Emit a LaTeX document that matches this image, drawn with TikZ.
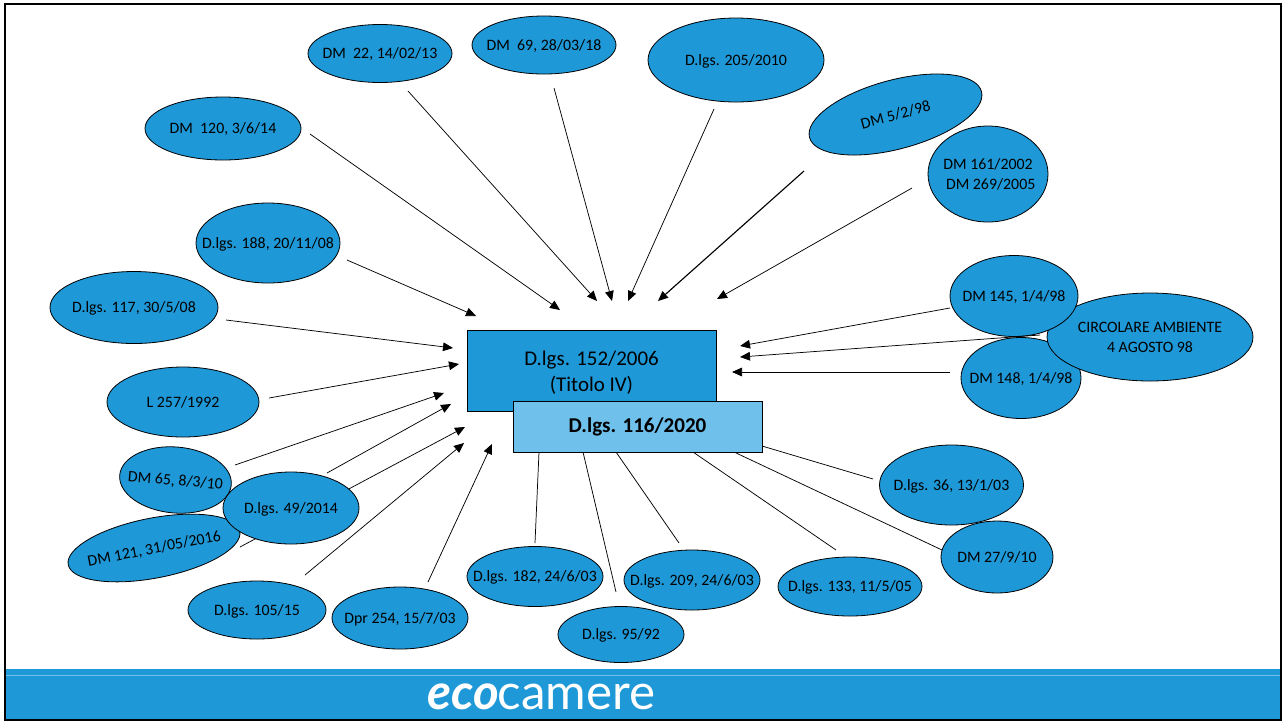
\documentclass[tikz,border=0pt]{standalone}
\usepackage{fontspec}
\setmainfont{Carlito}
\newfontfamily\logofont{Lato}
\usetikzlibrary{shapes.geometric,arrows.meta,backgrounds}
\definecolor{ecoblue}{HTML}{1F98D7}
\definecolor{ecolight}{HTML}{6FC0EB}
\tikzset{
  x=0.75pt,y=-0.75pt,
  el/.style={ellipse,draw=black,fill=ecoblue,line width=0.6pt,inner sep=-14pt,align=center,text=black,font=\fontsize{11.9pt}{15pt}\selectfont},
  box/.style={rectangle,draw=black,line width=0.6pt,inner sep=0pt,align=center,text=black},
  arr/.style={draw=black,line width=0.55pt,-{Triangle[length=7.5pt,width=6.5pt]}},
  lin/.style={draw=black,line width=0.55pt},
}
\newcommand{\el}[7]{\node[el,minimum width=#3*1.5pt,minimum height=#4*1.5pt,rotate=#5] (#6) at (#1,#2) {\raisebox{-1.1pt}[\height][\depth]{\begin{tabular}{@{}c@{}}#7\end{tabular}}};}
\newcommand{\conn}[6]{\coordinate (#1-a) at (#2,#3); \coordinate (#1-b) at (#4,#5); \draw[#6] (#1-a) -- (#1-b);}
\begin{document}
\begin{tikzpicture}
\useasboundingbox (0,0) rectangle (1284,722);
\begin{scope}[on background layer]
\path[fill=white] (0,0) rectangle (1284,722);
\end{scope}
\path[fill=ecoblue] (5,669) rectangle (1281,720);
\draw[ecolight,line width=0.5pt] (5,675.5) -- (1281,675.5);
\draw[black,line width=1.4pt] (5,4) rectangle (1281,720);
\node[font=\logofont\fontsize{37pt}{37pt}\selectfont,text=white,anchor=base west,inner sep=0pt] (logo) at (427,709) {\textbf{\textit{eco}}\kern-1pt camere};

\node[box,fill=ecoblue,minimum width=186.75pt,minimum height=60.5pt,font=\fontsize{15.7pt}{20pt}\selectfont] (main) at (591.5,371.2) {\raisebox{-1.4pt}[\height][\depth]{\begin{tabular}{@{}c@{}}D.lgs. 152/2006\\(Titolo IV)\end{tabular}}};
\node[box,fill=ecolight,minimum width=186.75pt,minimum height=38.25pt,font=\bfseries\fontsize{15.8pt}{19pt}\selectfont] (sub) at (637.5,426.5) {D.lgs. 116/2020};

\el{380}{53.5}{72}{29}{0}{a1}{DM\ \ 22, 14/02/13}
\el{544}{45}{72}{29}{0}{a2}{DM\ \ 69, 28/03/18}
\el{736}{60}{88}{42}{0}{a3}{D.lgs. 205/2010}
\el{895.5}{114.5}{89}{34.5}{15}{a4}{DM 5/2/98}
\el{988}{174}{60}{48}{0}{a5}{DM 161/2002\\\kern4pt DM 269/2005}
\el{223}{128.5}{78}{31.5}{0}{b1}{DM\ \ 120, 3/6/14}
\el{268}{243}{72}{40}{0}{b2}{D.lgs. 188, 20/11/08}
\el{134}{307.5}{84}{36}{0}{b3}{D.lgs. 117, 30/5/08}
\el{183}{402}{76}{35}{0}{b4}{L 257/1992}
\el{154}{548}{87.4}{30}{11}{b6}{DM 121, 31/05/2016}
\el{175.5}{480}{56}{33}{-5}{b5}{DM 65, 8/3/10}
\el{291}{508}{68}{36}{0}{b7}{D.lgs. 49/2014}
\el{257}{610}{69}{29}{0}{b8}{D.lgs. 105/15}
\el{400}{618}{68}{31}{0}{b9}{Dpr 254, 15/7/03}
\el{535}{576.5}{68}{30}{0}{c1}{D.lgs. 182, 24/6/03}
\el{621}{634.5}{63}{28}{0}{c2}{D.lgs. 95/92}
\el{692}{580}{68}{30}{0}{c3}{D.lgs. 209, 24/6/03}
\el{850}{586.5}{72}{29.5}{0}{c4}{D.lgs. 133, 11/5/05}
\el{997}{557}{56}{36}{0}{c5}{DM 27/9/10}
\el{951.5}{485}{72}{40}{0}{c6}{D.lgs. 36, 13/1/03}
\el{1021}{378}{60}{40.5}{0}{d3}{DM 148, 1/4/98}
\el{1150}{337}{103}{44}{0}{d2}{CIRCOLARE AMBIENTE\\4 AGOSTO 98}
\el{1014}{296}{64}{40.5}{0}{d1}{DM 145, 1/4/98}

\conn{d2c}{1040}{335}{740}{357}{arr}

\begin{scope}[on background layer]
\conn{b1c}{310}{134}{560}{310}{arr}
\conn{a1c}{408}{91}{597}{301}{arr}
\conn{a2c}{554}{88}{612}{301}{arr}
\conn{a3c}{714}{109}{628}{301}{arr}
\conn{a4c}{804}{171}{658}{301}{arr,line width=0.85pt}
\conn{a5c}{912}{188}{717}{299}{arr}
\conn{b2c}{347}{260}{476}{316}{arr}
\conn{b3c}{226}{320}{453}{348}{arr}
\conn{b4c}{269}{398}{459}{364}{arr}
\conn{b5c}{235}{465}{444}{393}{arr}
\conn{b7c}{327}{473}{451}{404}{arr}
\conn{b6c}{240}{547}{465}{427}{arr}
\conn{b8c}{305}{575}{464}{443}{arr}
\conn{b9c}{428}{582}{492}{444}{arr}
\conn{d1c}{950}{308}{740}{346}{arr}
\conn{d3c}{950}{372}{732}{372}{arr}
\conn{c1c}{539}{452}{535}{543}{lin}
\conn{c2c}{583}{452}{616}{592}{lin}
\conn{c3c}{616}{452}{679}{543}{lin}
\conn{c4c}{693}{452}{836}{550}{lin}
\conn{c5c}{734}{452}{942}{550}{lin}
\conn{c6c}{762}{446}{873}{479}{lin}
\end{scope}
\end{tikzpicture}
\end{document}
